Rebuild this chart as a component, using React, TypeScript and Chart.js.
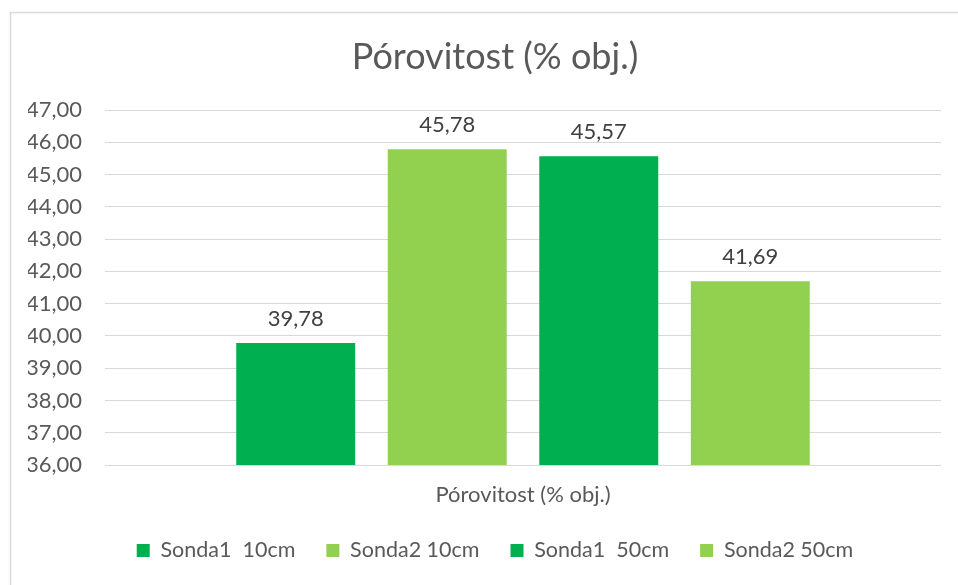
import React, { useEffect, useRef } from "react";
import { Chart, registerables } from "chart.js";

Chart.register(...registerables);

const categories = ["Pórovitost (% obj.)"];
const seriesNames = ["Sonda1  10cm", "Sonda2 10cm", "Sonda1  50cm", "Sonda2 50cm"];
const seriesValues = [[39.78], [45.78], [45.57], [41.69]];
const seriesColors = ["#00B050", "#92D050", "#00B050", "#92D050"];
const yMin = 36;
const yMax = 47;
const titleText = "Pórovitost (% obj.)";

const FONT = "Lato, 'Open Sans', sans-serif";
const fmt = (v: number) => v.toFixed(2).replace(".", ",");
const SHIFT = 10.5;

const borderPlugin = {
  id: "outerBorder",
  beforeDraw(chart: any) {
    const ctx = chart.ctx;
    ctx.save();
    ctx.strokeStyle = "#D9D9D9";
    ctx.lineWidth = 1.5;
    ctx.beginPath();
    ctx.moveTo(10.5, chart.height + 5);
    ctx.lineTo(10.5, 12.5);
    ctx.lineTo(chart.width + 5, 12.5);
    ctx.stroke();
    ctx.restore();
  },
};

const shiftPlugin = {
  id: "shiftBlocks",
  afterLayout(chart: any) {
    const blocks = [chart.titleBlock, chart.legend];
    blocks.forEach((b: any) => {
      if (b) {
        b.left += SHIFT;
        b.right += SHIFT;
      }
    });
  },
};

const labelPlugin = {
  id: "valueLabels",
  afterDatasetsDraw(chart: any) {
    const ctx = chart.ctx;
    ctx.save();
    ctx.font = `22px ${FONT}`;
    ctx.fillStyle = "#404040";
    ctx.textAlign = "center";
    ctx.textBaseline = "alphabetic";
    chart.data.datasets.forEach((ds: any, i: number) => {
      const meta = chart.getDatasetMeta(i);
      meta.data.forEach((bar: any, j: number) => {
        ctx.fillText(fmt(ds.data[j]), bar.x, bar.y - 17.5);
      });
    });
    ctx.restore();
  },
};

export default function App() {
  const ref = useRef<HTMLCanvasElement>(null);
  useEffect(() => {
    if (!ref.current) return;
    const chart = new Chart(ref.current, {
      type: "bar",
      data: {
        labels: categories,
        datasets: seriesNames.map((name, i) => ({
          label: name,
          data: seriesValues[i],
          backgroundColor: seriesColors[i],
          borderWidth: 0,
          categoryPercentage: 0.725,
          barPercentage: 0.785,
        })),
      },
      options: {
        responsive: false,
        animation: false,
        layout: { padding: { left: 28, right: 17, top: 0, bottom: 13.8 } },
        plugins: {
          title: {
            display: true,
            text: titleText,
            color: "#595959",
            font: { family: FONT, size: 36, weight: "normal" },
            padding: { top: 35.4, bottom: 31.4 },
          },
          legend: {
            position: "bottom",
            labels: {
              color: "#595959",
              font: { family: FONT, size: 21.5 },
              boxWidth: 13,
              boxHeight: 13,
              padding: 31,
            },
          },
          tooltip: { enabled: false },
        },
        scales: {
          x: {
            grid: { display: false, drawTicks: false },
            border: { display: false },
            ticks: {
              color: "#595959",
              font: { family: FONT, size: 22 },
              padding: 16.8,
            },
            afterFit: (s: any) => {
              s.height = 43.7;
            },
          },
          y: {
            min: yMin,
            max: yMax,
            grid: { color: "#D9D9D9", lineWidth: 1, drawTicks: false },
            border: { display: false },
            ticks: {
              stepSize: 1,
              color: "#595959",
              font: { family: FONT, size: 22 },
              padding: 23,
              callback: (v: any) => fmt(Number(v)),
            },
            afterFit: (s: any) => {
              s.width = 77;
            },
          },
        },
      },
      plugins: [borderPlugin, shiftPlugin, labelPlugin],
    });
    return () => chart.destroy();
  }, []);
  return (
    <div style={{ position: "fixed", left: 0, top: 0, width: 958, height: 585, background: "#fff" }}>
      <canvas ref={ref} width={958} height={585} style={{ display: "block" }} />
    </div>
  );
}
